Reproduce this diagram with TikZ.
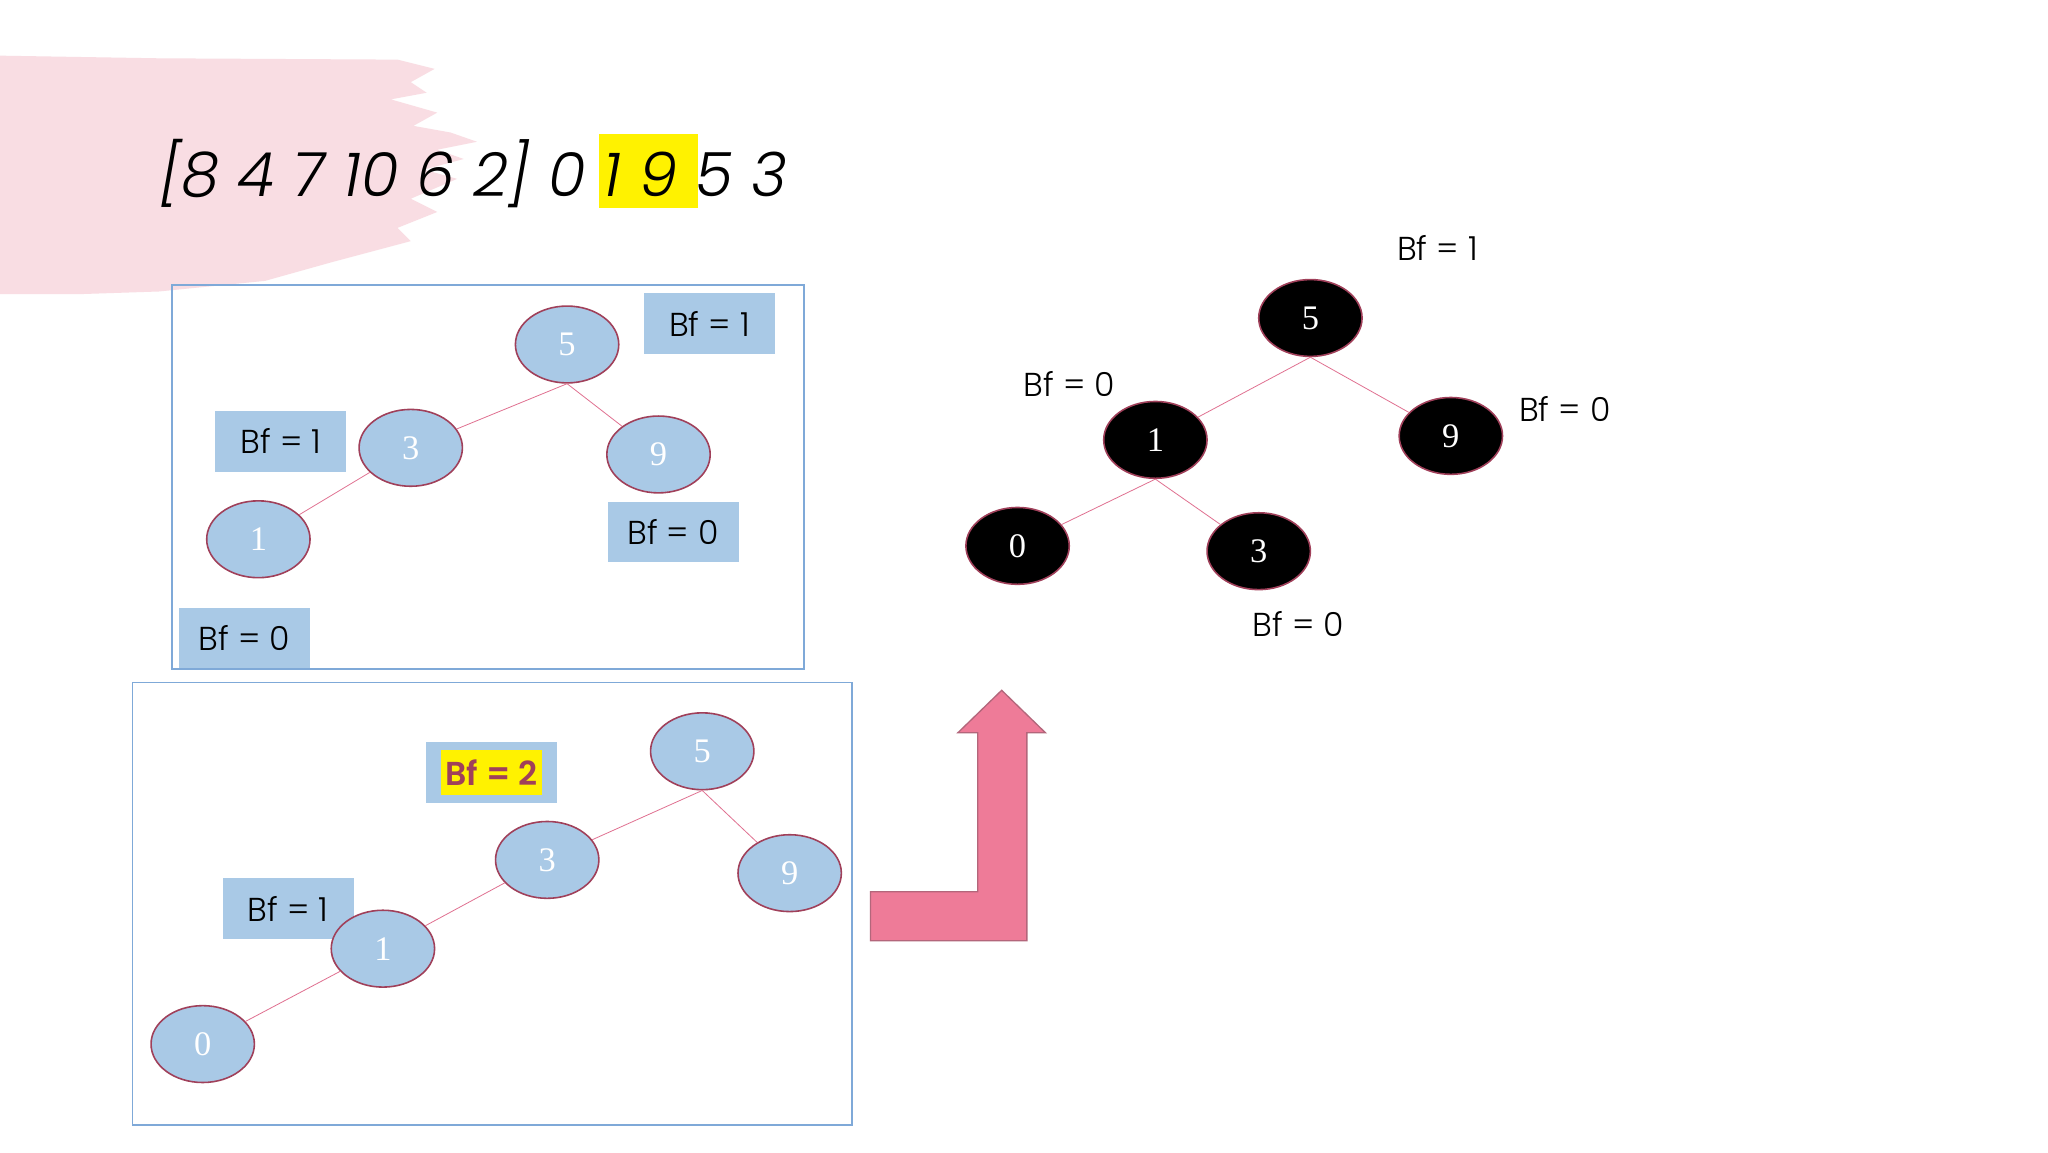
\documentclass[tikz,border=0pt]{standalone}
\usepackage{fontspec}
\setmainfont{Liberation Serif}
\newfontfamily\gothic{Poppins Light}
\newfontfamily\gothicb{Poppins SemiBold}
\usetikzlibrary{shapes.geometric}
\definecolor{lblue}{HTML}{A9C9E6}
\definecolor{bord}{HTML}{A0405A}
\definecolor{frame}{HTML}{7FA9D8}
\definecolor{edgec}{HTML}{E07090}
\definecolor{brush}{HTML}{F9DDE3}
\definecolor{arrowc}{HTML}{EE7B98}
\tikzset{
  x=1pt,y=-1pt,
  bnode/.style={ellipse,draw=bord,line width=1.2pt,fill=lblue,minimum width=78pt,minimum height=58pt,inner sep=0pt,text=white,font=\fontsize{26}{26}\selectfont},
  knode/.style={ellipse,draw=bord,line width=1.2pt,fill=black,minimum width=78pt,minimum height=58pt,inner sep=0pt,text=white,font=\fontsize{26}{26}\selectfont},
  lab/.style={fill=lblue,minimum width=99pt,minimum height=46pt,inner sep=0pt,font=\gothic\fontsize{25}{25}\selectfont},
  tlab/.style={inner sep=0pt,font=\gothic\fontsize{25}{25}\selectfont},
  frm/.style={draw=frame,line width=1.2pt},
  edg/.style={draw=edgec,line width=0.6pt}
}
\begin{document}
\begin{tikzpicture}
\useasboundingbox (0,0) rectangle (1545.7,869.5);
\fill[white] (0,0) rectangle (1545.7,869.5);
% brush
\fill[brush] (0,42) -- (120,44) -- (300,45) -- (328,52) -- (310,62) -- (322,70) -- (295,75) -- (330,85) -- (312,95) -- (340,100) -- (360,107) -- (330,113) -- (350,120) -- (320,128) -- (345,135) -- (310,150) -- (330,160) -- (300,172) -- (310,182) -- (250,198) -- (200,212) -- (120,220) -- (60,222) -- (0,222) -- cycle;
% title
\fill[yellow] (452,101) rectangle (527,157);
\node[anchor=base west,inner sep=0pt,font=\gothic\itshape\fontsize{46}{46}\selectfont] (title) at (120,148) {[8 4 7 10 6 2] 0 1 9 5 3};
% box 1
\draw[frm] (130,215) rectangle (607,505);
\node[lab] (l1a) at (535.5,244.5) {Bf = 1};
\node[lab] (l1b) at (212,333) {Bf = 1};
\node[lab] (l1c) at (508,401.5) {Bf = 0};
\node[lab] (l1d) at (184.5,481.5) {Bf = 0};
\node[bnode] (a5) at (428,260) {5};
\node[bnode] (a3) at (310,338) {3};
\node[bnode] (a9) at (497,343) {9};
\node[bnode] (a1) at (195,407) {1};
\draw[edg] (a5.south) -- (a3);
\draw[edg] (a5.south) -- (a9);
\draw[edg] (a3) -- (a1);
% box 2
\draw[frm] (100,515) rectangle (643,849);
\node[lab] (l2a) at (371,583) {};
\fill[yellow] (333,566) rectangle (409,600);
\node[tlab,text=bord,font=\gothicb\fontsize{25}{25}\selectfont] (l2at) at (371,583) {Bf = 2};
\node[lab] (l2b) at (217.5,686) {Bf = 1};
\node[bnode] (b5) at (530,567) {5};
\node[bnode] (b3) at (413,649) {3};
\node[bnode] (b9) at (596,659) {9};
\node[bnode] (b1) at (289,716) {1};
\node[bnode] (b0) at (153,788) {0};
\draw[edg] (b5.south) -- (b3);
\draw[edg] (b5.south) -- (b9);
\draw[edg] (b3) -- (b1);
\draw[edg] (b1) -- (b0);
% arrow
\draw[fill=arrowc,draw=bord!80,line width=1pt] (657,673) -- (738,673) -- (738,553) -- (723,553) -- (756,521) -- (789,553) -- (775,553) -- (775,710) -- (657,710) -- cycle;
% right tree
\node[knode] (c5) at (989,240) {5};
\node[knode] (c1) at (872,332) {1};
\node[knode] (c9) at (1095,329) {9};
\node[knode] (c0) at (768,412) {0};
\node[knode] (c3) at (950,416) {3};
\draw[edg] (c5.south) -- (c1);
\draw[edg] (c5.south) -- (c9);
\draw[edg] (c1.south) -- (c0);
\draw[edg] (c1.south) -- (c3);
\node[tlab] (r1) at (1085,187) {Bf = 1};
\node[tlab] (r2) at (807,290) {Bf = 0};
\node[tlab] (r3) at (1181,309) {Bf = 0};
\node[tlab] (r4) at (980,471) {Bf = 0};
\end{tikzpicture}
\end{document}
